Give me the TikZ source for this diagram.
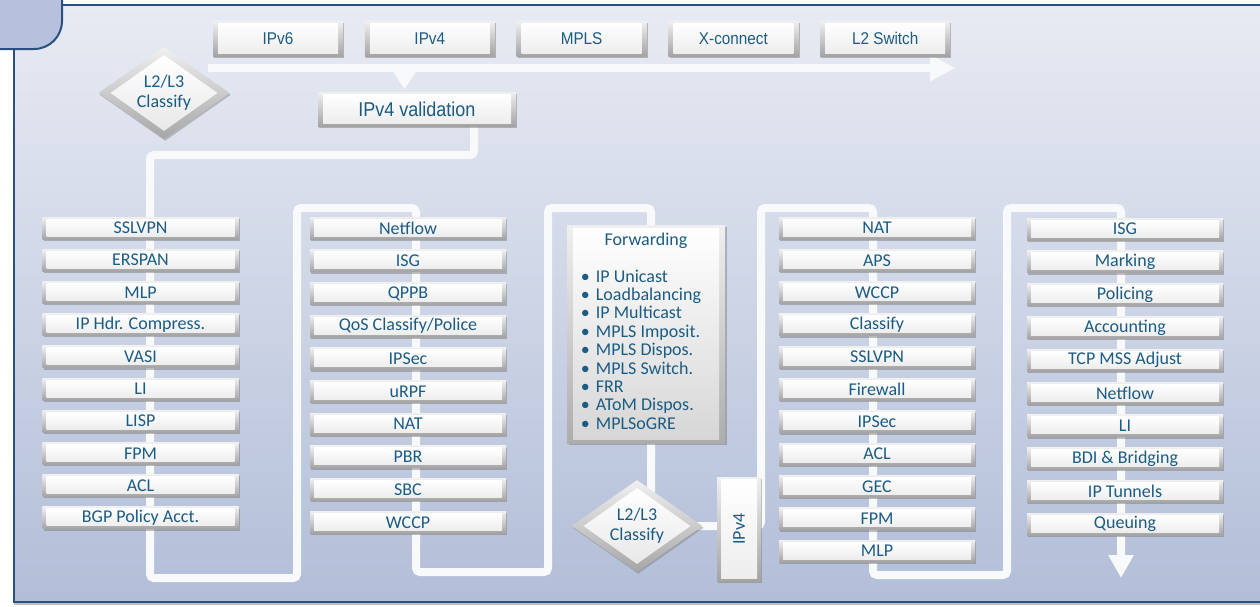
\documentclass[tikz,border=0pt]{standalone}
\usepackage{fontspec}
\setmainfont{Carlito}
\newfontfamily\narrowfont[FakeStretch=0.9]{Liberation Sans}
\usetikzlibrary{shapes.geometric,shadows,calc,arrows.meta}

\definecolor{txt}{HTML}{1B5C84}
\definecolor{frm}{HTML}{2A4F80}
\definecolor{bgtop}{HTML}{E8EBF3}
\definecolor{bgbot}{HTML}{B2BED8}
\definecolor{tabfill}{HTML}{B6C2DD}
\definecolor{wirec}{HTML}{F8F9FB}

\pgfdeclarelayer{panel}
\pgfdeclarelayer{wires}
\pgfsetlayers{panel,wires,main}

\tikzset{
  bvl/.style={inner sep=0pt, text=txt,
    drop shadow={shadow xshift=1.2pt, shadow yshift=-1.8pt, opacity=0.45, fill=black!55},
    path picture={
      \shade[top color=gray!12, bottom color=gray!72]
        (path picture bounding box.south west) rectangle (path picture bounding box.north east);
      \shade[top color=white, bottom color=gray!14]
        ($(path picture bounding box.north west)+(#1,2)$) rectangle
        ($(path picture bounding box.south east)+(-#1,-3)$);
    }},
  bvl/.default=4,
  cbox/.style={bvl, minimum width=196pt, minimum height=22pt,
    font=\fontsize{18}{20}\selectfont},
  topbox/.style={bvl=5, minimum width=130pt, minimum height=35pt,
    font=\narrowfont\fontsize{17}{19}\selectfont},
  valbox/.style={bvl=5, minimum width=198pt, minimum height=34pt,
    font=\narrowfont\fontsize{20}{22}\selectfont},
  vbox/.style={bvl=4, minimum width=44pt, minimum height=104pt,
    font=\fontsize{18}{20}\selectfont},
  fwdbox/.style={inner sep=0pt, text=txt, align=center,
    minimum width=158pt, minimum height=218pt,
    font=\fontsize{18}{18.4}\selectfont,
    drop shadow={shadow xshift=1.5pt, shadow yshift=-2pt, opacity=0.45, fill=black!55},
    path picture={
      \shade[top color=gray!12, bottom color=gray!65]
        (path picture bounding box.south west) rectangle (path picture bounding box.north east);
      \shade[top color=white, bottom color=gray!32]
        ($(path picture bounding box.north west)+(6,3)$) rectangle
        ($(path picture bounding box.south east)+(-6,-4)$);
    }},
  dia/.style={shape=diamond, aspect=1.42, inner sep=0pt, text=txt, align=center,
    minimum width=131pt, minimum height=92pt,
    font=\fontsize{18}{20}\selectfont,
    drop shadow={shadow xshift=1.2pt, shadow yshift=-1.8pt, opacity=0.4, fill=black!55},
    path picture={
      \shade[top color=gray!12, bottom color=gray!70]
        (path picture bounding box.south west) rectangle (path picture bounding box.north east);
      \shade[top color=white, bottom color=gray!18]
        ($(path picture bounding box.north)+(0,8)$) --
        ($(path picture bounding box.east)+(-12,0)$) --
        ($(path picture bounding box.south)+(0,-8)$) --
        ($(path picture bounding box.west)+(12,0)$) -- cycle;
    }},
  wire/.style={draw=wirec, line width=8pt, rounded corners=4pt},
  frame/.style={draw=frm, line width=2pt},
}

\begin{document}
\begin{tikzpicture}[x=1pt, y=-1pt]
\useasboundingbox (0,0) rectangle (1260,606);
\clip (0,0) rectangle (1260,606);

% panel background and frame
\begin{pgfonlayer}{panel}
\shade[top color=bgtop, bottom color=bgbot] (14,5) rectangle (1270,602);
\draw[frame] (1270,5) -- (40,5);
\draw[frame] (14,30) -- (14,602) -- (1270,602);
\draw[black!25, line width=1.2pt] (14,604) -- (1270,604);
\filldraw[fill=tabfill, frame] (-5,-5) -- (62,-5) -- (62,21)
  .. controls (62,36.5) and (49.5,49) .. (34,49) -- (-5,49) -- cycle;
\end{pgfonlayer}

% top row of path choices
\foreach \t [count=\i from 0] in {IPv6, IPv4, MPLS, X-connect, L2 Switch}
  \node[topbox] (top\i) at ({278+151.8*\i}, 38.5) {\t};

\node[valbox] (val) at (417,109) {IPv4 validation};
\node[dia] (d1) at (164,93) {L2/L3\\Classify};

\node[fwdbox] (fwd) at (646,334) {Forwarding\\[18pt]%
  \begin{tabular}[t]{@{}l@{\hspace{10pt}}}
  \textbullet\hspace{6pt}IP Unicast\\
  \textbullet\hspace{6pt}Loadbalancing\\
  \textbullet\hspace{6pt}IP Multicast\\
  \textbullet\hspace{6pt}MPLS Imposit.\\
  \textbullet\hspace{6pt}MPLS Dispos.\\
  \textbullet\hspace{6pt}MPLS Switch.\\
  \textbullet\hspace{6pt}FRR\\
  \textbullet\hspace{6pt}AToM Dispos.\\
  \textbullet\hspace{6pt}MPLSoGRE
  \end{tabular}};

\node[dia] (d2) at (637,526) {L2/L3\\Classify};
\node[vbox] (v4) at (739,529) {\rotatebox{90}{IPv4}};

\foreach \t [count=\i from 0] in {SSLVPN, ERSPAN, MLP, IP Hdr. Compress., VASI,
    LI, LISP, FPM, ACL, BGP Policy Acct.}
  \node[cbox] (a\i) at (140.5, {228+32.2*\i}) {\t};

\foreach \t [count=\i from 0] in {Netflow, ISG, QPPB, QoS Classify/Police, IPSec,
    uRPF, NAT, PBR, SBC, WCCP}
  \node[cbox] (b\i) at (408, {228+32.7*\i}) {\t};

\foreach \t [count=\i from 0] in {NAT, APS, WCCP, Classify, SSLVPN, Firewall,
    IPSec, ACL, GEC, FPM, MLP}
  \node[cbox] (c\i) at (877, {228+32.3*\i}) {\t};

\foreach \t [count=\i from 0] in {ISG, Marking, Policing, Accounting, TCP MSS Adjust,
    Netflow, LI, BDI \& Bridging, IP Tunnels, Queuing}
  \node[cbox] (e\i) at (1125, {229+32.8*\i}) {\t};

% flow wires, kept beneath the boxes
\begin{pgfonlayer}{wires}
\coordinate (arrS) at (208,68);
\coordinate (arrE) at (955,68);
\draw[wire, rounded corners=0pt, -{Triangle[width=25pt,length=25pt]}] (arrS) -- (arrE);
\fill[wirec] (392,70) -- (417,70) -- (404.5,89) -- cycle;
\draw[wire] ([xshift=57pt]val.south) |- (150,155) |- (297,578) |- (416,208)
  |- (548,572) |- (651,208) -- (651,505);
\draw[wire, -{Triangle[width=24pt,length=23pt]}] (d2.center) -| (761,208)
  -| (873,575) -| (1007,208) -| (1121,578);
\end{pgfonlayer}
\end{tikzpicture}
\end{document}
